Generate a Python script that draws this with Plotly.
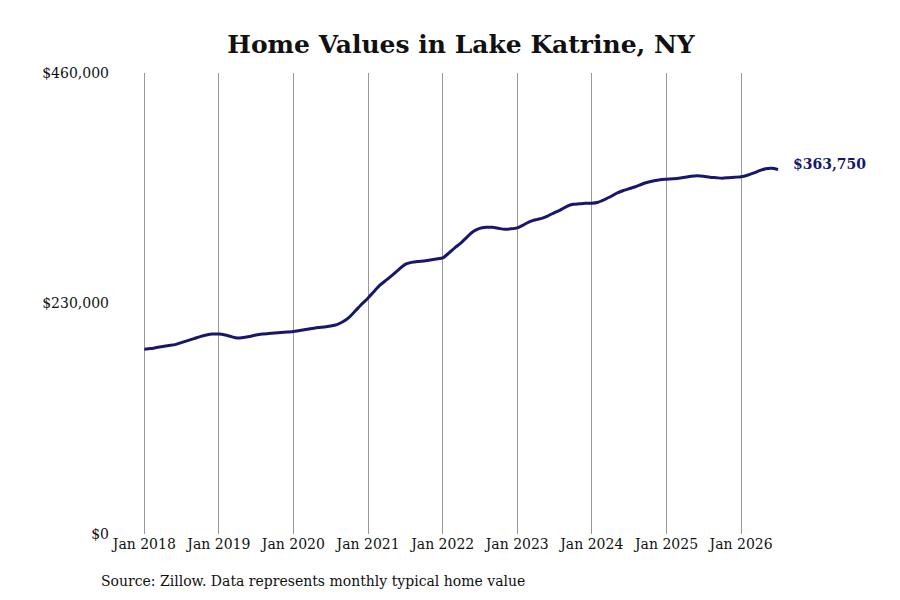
import plotly.graph_objects as go
import pandas as pd

# monthly typical home value, Jan 2018 - Jul 2026
dates = pd.date_range("2018-01-01", "2026-07-01", freq="MS")
values = [
    184300, 185000, 186000, 187000, 188000, 189000, 191000, 193000, 195000, 197000, 198500, 199500,
    199500, 198500, 197000, 195500, 196000, 197000, 198500, 199500, 200000, 200500, 201000, 201500,
    202000, 203000, 204000, 205000, 206000, 206500, 207500, 209000, 212000, 216500, 223000, 229500,
    235500, 242500, 248500, 253500, 258500, 264000, 269000, 271000, 272000, 272500, 273500, 274500,
    275500, 280500, 285500, 290500, 296500, 302000, 305000, 306000, 306000, 305000, 304000, 304500,
    305500, 308500, 311500, 313500, 315000, 317500, 320500, 323500, 327000, 329000, 329500, 330000,
    330000, 331000, 333500, 336500, 340000, 342500, 344500, 346500, 349000, 351000, 352500, 353500,
    354000, 354500, 355000, 356000, 357000, 357500, 357000, 356000, 355500, 355000, 355500, 356000,
    356500, 358000, 360000, 362500, 364500, 365000, 363750,
]

y_ticks = [0, 230000, 460000]
y_labels = ["$" + format(v, ",") for v in y_ticks]
x_ticks = pd.date_range("2018-01-01", "2026-01-01", freq="YS")
x_labels = [d.strftime("Jan %Y") for d in x_ticks]

serif = "DejaVu Serif"
navy = "#17176b"

fig = go.Figure()
fig.add_trace(go.Scatter(
    x=dates, y=values, mode="lines",
    line=dict(color=navy, width=3, shape="spline", smoothing=0.6),
    hoverinfo="skip",
))

# label at the last point
fig.add_annotation(
    x=dates[-1], y=values[-1], text="<b>$" + format(values[-1], ",") + "</b>",
    showarrow=False, xanchor="left", xshift=13, yshift=5,
    font=dict(family=serif, size=14, color=navy),
)

# source note under the axis
fig.add_annotation(
    x=-0.0163, y=-0.102, xref="paper", yref="paper", xanchor="left", yanchor="middle",
    text="Source: Zillow. Data represents monthly typical home value",
    showarrow=False, font=dict(family=serif, size=14, color="#111111"),
)

# page has an 8px body margin, so the figure is a bit smaller than the window
fig.update_layout(
    width=892, height=592,
    paper_bgcolor="white", plot_bgcolor="white",
    margin=dict(l=102, r=115, t=65, b=66),
    showlegend=False,
    title=dict(text="<b>Home Values in Lake Katrine, NY</b>", x=453 / 892, xanchor="center",
               y=1 - 36 / 592, yanchor="middle",
               font=dict(family=serif, size=25, color="#111111")),
    font=dict(family=serif, size=14, color="#111111"),
)
fig.update_xaxes(
    range=["2017-07-17", "2026-08-04"],
    tickvals=x_ticks, ticktext=x_labels,
    showgrid=True, gridcolor="#999999", gridwidth=1,
    ticks="", showline=False, zeroline=False,
)
fig.update_yaxes(
    range=[0, 460000], tickvals=y_ticks, ticktext=y_labels,
    showgrid=False, zeroline=False, showline=False, ticks="",
)

fig.write_html("out.html")
